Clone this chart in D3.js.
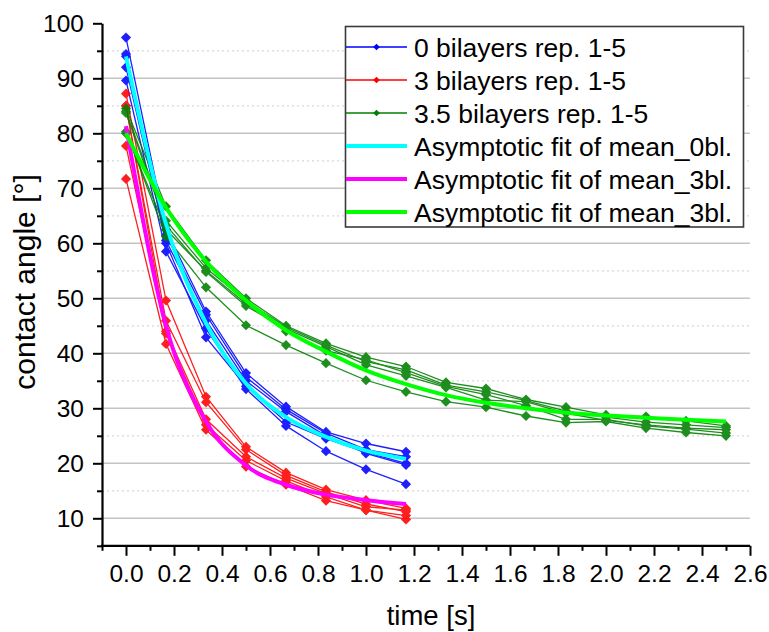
<!DOCTYPE html>
<html>
<head>
<meta charset="utf-8">
<script src="https://d3js.org/d3.v7.min.js"></script>
<style>
    body { margin: 0; background: #fff; }
    text { font-family: "Liberation Sans", Arial, sans-serif; fill: #000; }
</style>
</head>
<body>
<svg id="chart" width="769" height="632"></svg>
<script>
    // time points (s), one every 1/6 s
    const tShort = [0, 1/6, 2/6, 3/6, 4/6, 5/6, 6/6, 7/6];
    const tLong = [0, 1/6, 2/6, 3/6, 4/6, 5/6, 6/6, 7/6, 8/6, 9/6, 10/6, 11/6, 12/6, 13/6, 14/6, 15/6];

    // 0 bilayers, reps 1-5
    const blue1 = [97.4, 62.5, 47.6, 36.4, 30.3, 25.7, 23.6, 22.1];
    const blue2 = [94.4, 61.5, 47.0, 35.7, 29.8, 25.5, 22.5, 21.2];
    const blue3 = [92.0, 60.5, 46.0, 35.0, 29.4, 25.0, 21.8, 19.7];
    const blue4 = [89.6, 58.5, 44.5, 33.5, 26.8, 22.2, 18.9, 16.2];
    const blue5 = [94.0, 60.0, 42.9, 34.0, 27.5, 24.5, 22.0, 20.0];

    // 3 bilayers, reps 1-5
    const red1 = [87.2, 49.6, 32.1, 23.0, 18.3, 15.2, 13.3, 11.8];
    const red2 = [85.0, 45.9, 31.1, 22.5, 17.8, 14.8, 12.6, 11.2];
    const red3 = [85.0, 44.0, 28.0, 21.2, 17.3, 14.5, 12.1, 11.5];
    const red4 = [77.7, 43.6, 27.0, 20.5, 16.8, 13.9, 11.5, 10.5];
    const red5 = [71.7, 41.7, 26.1, 19.4, 16.1, 13.2, 11.5, 9.8];

    // 3.5 bilayers, reps 1-5
    const green1 = [84.5, 66.7, 56.9, 50.0, 45.0, 41.8, 39.3, 37.6, 34.7, 33.6, 31.6, 30.2, 28.8, 28.5, 27.7, 26.8];
    const green2 = [84.0, 64.1, 55.5, 49.5, 44.8, 41.5, 38.5, 37.0, 34.2, 33.0, 31.4, 29.5, 28.4, 27.5, 27.0, 26.5];
    const green3 = [83.7, 63.3, 54.8, 48.6, 44.5, 41.2, 37.9, 35.9, 33.8, 31.5, 31.2, 29.1, 27.8, 27.0, 26.4, 26.1];
    const green4 = [80.3, 61.2, 52.0, 45.1, 41.5, 38.2, 35.1, 33.0, 31.2, 30.2, 28.6, 27.4, 27.6, 26.4, 25.6, 25.0];
    const green5 = [80.0, 62.5, 55.0, 49.0, 44.0, 40.5, 38.8, 36.5, 34.0, 32.5, 30.5, 28.0, 28.0, 26.8, 26.2, 25.5];

    // fitted curves
    const fit0 = [94.0, 63.5, 45.5, 34.5, 28.4, 24.8, 22.3, 20.8];
    const fit3 = [81.3, 45.0, 27.6, 19.6, 16.1, 14.3, 13.3, 12.6];
    const fit35 = [80.0, 66.5, 56.7, 49.6, 44.2, 40.3, 36.9, 34.4, 32.4, 31.0, 30.0, 29.2, 28.7, 28.3, 27.9, 27.6];

    const legendLabels = ["0 bilayers rep. 1-5", "3 bilayers rep. 1-5", "3.5 bilayers rep. 1-5",
        "Asymptotic fit of mean_0bl.", "Asymptotic fit of mean_3bl.", "Asymptotic fit of mean_3bl."];

    const xTicks = [0, 0.2, 0.4, 0.6, 0.8, 1.0, 1.2, 1.4, 1.6, 1.8, 2.0, 2.2, 2.4, 2.6];
    const yTicks = [10, 20, 30, 40, 50, 60, 70, 80, 90, 100];

    const svg = d3.select("#chart");

    const x = d3.scaleLinear().domain([-0.1, 2.6]).range([102, 750]);
    const y = d3.scaleLinear().domain([5, 100]).range([545.8, 23.3]);

    // grid lines
    const grid = svg.append("g");
    grid.selectAll(".minor")
        .data(d3.range(15, 100, 10))
        .join("line")
        .attr("x1", x(-0.1)).attr("x2", x(2.6))
        .attr("y1", d => y(d)).attr("y2", d => y(d))
        .attr("stroke", "#d8d8d8").attr("stroke-width", 1.2)
        .attr("stroke-dasharray", "2,3");
    grid.selectAll(".major")
        .data(yTicks.slice(0, -1))
        .join("line")
        .attr("x1", x(-0.1)).attr("x2", x(2.6))
        .attr("y1", d => y(d)).attr("y2", d => y(d))
        .attr("stroke", "#c4c4c4").attr("stroke-width", 1.4);

    // axes
    const xAxis = svg.append("g")
        .attr("transform", "translate(0," + y(5) + ")")
        .call(d3.axisBottom(x).tickValues(xTicks).tickFormat(d3.format(".1f")).tickSize(10).tickSizeOuter(0).tickPadding(9));
    svg.append("g")
        .attr("transform", "translate(0," + y(5) + ")")
        .call(d3.axisBottom(x).tickValues(d3.range(-0.1, 2.55, 0.2)).tickFormat("").tickSize(5).tickSizeOuter(0))
        .select(".domain").remove();
    const yAxis = svg.append("g")
        .attr("transform", "translate(" + x(-0.1) + ",0)")
        .call(d3.axisLeft(y).tickValues(yTicks).tickSize(9).tickSizeOuter(0).tickPadding(9));
    svg.append("g")
        .attr("transform", "translate(" + x(-0.1) + ",0)")
        .call(d3.axisLeft(y).tickValues(d3.range(5, 100, 10)).tickFormat("").tickSize(5).tickSizeOuter(0))
        .select(".domain").remove();

    svg.selectAll(".domain").attr("stroke", "#000").attr("stroke-width", 2.2);
    svg.selectAll(".tick line").attr("stroke", "#000").attr("stroke-width", 2);
    xAxis.selectAll("text").attr("font-size", 24.5);
    yAxis.selectAll("text").attr("font-size", 24.5);
    // extend x axis a touch to the left like Origin does
    xAxis.select(".domain").attr("d", "M" + (x(-0.1) - 1) + ",0H" + x(2.6));

    svg.append("text")
        .attr("x", 431).attr("y", 625)
        .attr("text-anchor", "middle").attr("font-size", 27.5)
        .text("time [s]");
    svg.append("text")
        .attr("transform", "translate(35,282) rotate(-90)")
        .attr("text-anchor", "middle").attr("font-size", 30)
        .text("contact angle [°]");

    // replicate series
    const diamond = d3.symbol().type(d3.symbolDiamond2).size(66);
    const line = d3.line().x(d => x(d[0])).y(d => y(d[1]));

    function drawReps(times, reps, color) {
        const g = svg.append("g").attr("opacity", 0.88);
        reps.forEach(function(vals) {
            const pts = vals.map((v, i) => [times[i], v]);
            g.append("path")
                .attr("d", line(pts))
                .attr("fill", "none").attr("stroke", color).attr("stroke-width", 1.3);
            g.selectAll(null)
                .data(pts)
                .join("path")
                .attr("transform", d => "translate(" + x(d[0]) + "," + y(d[1]) + ")")
                .attr("d", diamond)
                .attr("fill", color);
        });
    }
    drawReps(tShort, [blue1, blue2, blue3, blue4, blue5], "#0000ff");
    drawReps(tShort, [red1, red2, red3, red4, red5], "#ff0000");
    drawReps(tLong, [green1, green2, green3, green4, green5], "#007f00");

    // fits on top
    const fitLine = d3.line().x(d => x(d[0])).y(d => y(d[1])).curve(d3.curveMonotoneX);
    function drawFit(times, vals, color) {
        svg.append("path")
            .attr("d", fitLine(vals.map((v, i) => [times[i], v])))
            .attr("fill", "none").attr("stroke", color).attr("stroke-width", 4);
    }
    drawFit(tShort, fit0, "#00ffff");
    drawFit(tShort, fit3, "#ff00ff");
    drawFit(tLong, fit35, "#00ff00");

    // legend
    const legColors = ["#0000ff", "#ff0000", "#007f00", "#00ffff", "#ff00ff", "#00ff00"];
    const leg = svg.append("g");
    leg.append("rect")
        .attr("x", 345.5).attr("y", 26.5).attr("width", 398).attr("height", 200.5)
        .attr("fill", "#fff").attr("stroke", "#3a3a3a").attr("stroke-width", 1.6);
    const rows = leg.selectAll(".row")
        .data(legendLabels)
        .join("g")
        .attr("transform", (d, i) => "translate(0," + (47 + i * 33) + ")");
    rows.append("line")
        .attr("x1", 346).attr("x2", 407)
        .attr("stroke", (d, i) => legColors[i])
        .attr("stroke-width", (d, i) => i < 3 ? 1.3 : 4);
    rows.filter((d, i) => i < 3).append("path")
        .attr("transform", "translate(376.5,0)")
        .attr("d", d3.symbol().type(d3.symbolDiamond2).size(28))
        .attr("fill", (d, i) => legColors[i]);
    rows.append("text")
        .attr("x", 414).attr("y", 9.5)
        .attr("font-size", 26.5)
        .text(d => d);
</script>
</body>
</html>
